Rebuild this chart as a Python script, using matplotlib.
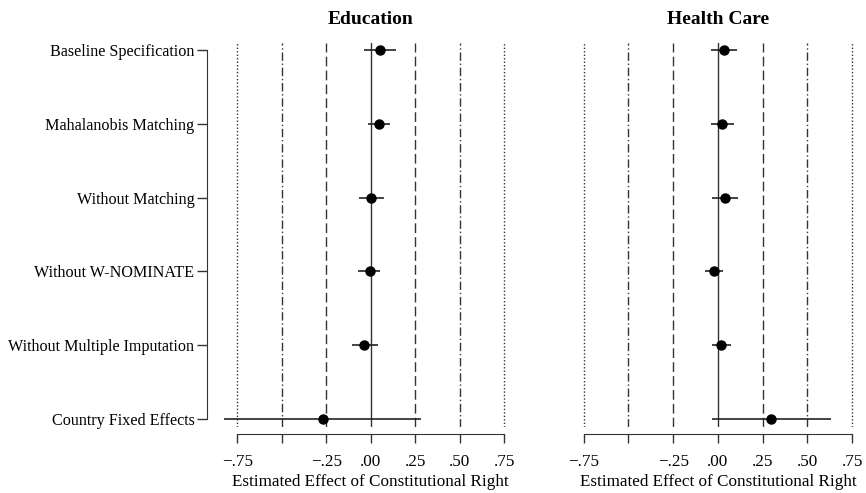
import matplotlib
matplotlib.use("Agg")
import matplotlib.pyplot as plt
import matplotlib.transforms as mtransforms

plt.rcParams['font.family'] = ['Liberation Serif', 'DejaVu Serif']

# specifications, top to bottom
specs = ["Baseline Specification", "Mahalanobis Matching", "Without Matching",
         "Without W-NOMINATE", "Without Multiple Imputation", "Country Fixed Effects"]

# Education: estimate and interval
edu_est = [0.053, 0.046, 0.003, -0.007, -0.037, -0.271]
edu_lo = [-0.037, -0.018, -0.066, -0.070, -0.108, -0.827]
edu_hi = [0.143, 0.110, 0.072, 0.053, 0.038, 0.282]

# Health care: estimate and interval
hc_est = [0.032, 0.023, 0.037, -0.022, 0.019, 0.297]
hc_lo = [-0.040, -0.040, -0.033, -0.070, -0.033, -0.033]
hc_hi = [0.108, 0.090, 0.112, 0.030, 0.075, 0.630]

ticks = [-0.75, -0.5, -0.25, 0.0, 0.25, 0.5, 0.75]
tick_labels = ["\u2212.75", "", "\u2212.25", ".00", ".25", ".50", ".75"]

W, H = 866, 493
fig = plt.figure(figsize=(W / 100, H / 100), dpi=100)

# axes boxes in pixels (left, right), shared top/bottom
top, bottom = 43, 427
ax1 = fig.add_axes([207 / W, 1 - bottom / H, (534.6 - 207) / W, (bottom - top) / H])
ax2 = fig.add_axes([553.3 / W, 1 - bottom / H, (866.4 - 553.3) / W, (bottom - top) / H])

rows = list(range(1, len(specs) + 1))
ref_lines = [(-0.75, (0, (1, 1.5))), (-0.5, (0, (6, 2, 1, 2))), (-0.25, (0, (7, 3))),
             (0.0, '-'), (0.25, (0, (7, 3))), (0.5, (0, (6, 2, 1, 2))), (0.75, (0, (1, 1.5)))]

panels = [(ax1, "Education", edu_est, edu_lo, edu_hi, (-0.92, 0.92)),
          (ax2, "Health Care", hc_est, hc_lo, hc_hi, (-0.92, 0.83))]

for ax, title, est, lo, hi, xlim in panels:
    for xv, ls in ref_lines:
        ax.axvline(xv, color='#333333', lw=1.0, ls=ls, zorder=1)
    ax.hlines(rows, lo, hi, color='#222222', lw=1.2, zorder=2)
    ax.plot(est, rows, 'o', color='black', ms=6.5, zorder=3)

    ax.set_xlim(*xlim)
    ax.set_ylim(6.11, 0.905)
    ax.set_xticks(ticks)
    ax.set_xticklabels(tick_labels)
    ax.tick_params(axis='x', direction='out', length=6.5, width=1, pad=8,
                   color='#333333', labelsize=12.3)

    for s in ['top', 'right']:
        ax.spines[s].set_visible(False)
    ax.spines['bottom'].set_bounds(-0.75, 0.75)
    ax.spines['bottom'].set_position(('outward', 5))
    ax.spines['bottom'].set_color('#333333')

    trans = mtransforms.blended_transform_factory(ax.transData, ax.transAxes)
    ax.text(0, 1.06, title, transform=trans, ha='center', va='center',
            fontsize=14, fontweight='bold')
    ax.text(0, -0.142, "Estimated Effect of Constitutional Right", transform=trans,
            ha='center', va='center', fontsize=12.3)

ax1.set_yticks(rows)
ax1.set_yticklabels(specs)
ax1.tick_params(axis='y', direction='out', length=7, width=1, pad=2,
                color='#333333', labelsize=11.6)
ax1.spines['left'].set_bounds(1, 6)
ax1.spines['left'].set_color('#333333')

ax2.spines['left'].set_visible(False)
ax2.set_yticks([])

fig.savefig("out.png", dpi=100)
